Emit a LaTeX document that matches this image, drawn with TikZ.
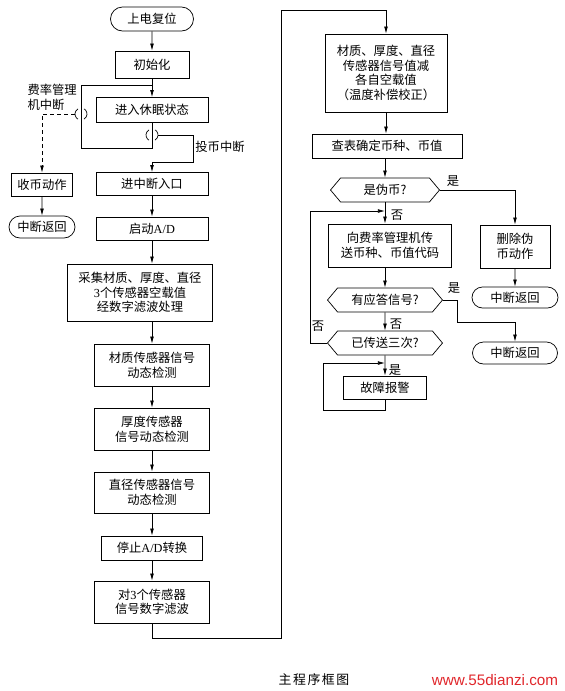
\documentclass[tikz,border=0pt]{standalone}
\usepackage{fontspec}
\setmainfont{Noto Sans CJK SC}
\newfontfamily\latn{Liberation Serif}
\newfontfamily\webfont{Liberation Sans}
\newfontfamily\capfont[LetterSpace=12]{Noto Sans CJK SC}
\usepackage{tikz}
\usetikzlibrary{arrows.meta,shapes.misc,shapes.symbols}
\definecolor{wmred}{HTML}{E0262B}

\begin{document}
\begin{tikzpicture}[
  x=0.03cm, y=-0.03cm, line width=0.6pt,
  every node/.style={font=\fontsize{10.5}{12.5}\selectfont},
  pbox/.style={draw, rectangle, inner sep=0pt, align=center},
  term/.style={draw, rounded rectangle, inner sep=0pt},
  decide/.style={draw, signal, signal to=west and east, signal pointer angle=100,
                 inner sep=0pt, minimum height=0.72cm},
  arr/.style={-{Latex[length=6pt,width=3.2pt]}},
  lbl/.style={inner sep=1pt}
]
  \useasboundingbox (0,0) rectangle (565,691);

  \node[term, minimum width=2.49cm, minimum height=0.72cm] (pwr) at (152,19) {上电复位};
  \node[pbox, minimum width=2.22cm, minimum height=0.81cm] (init) at (152,64.5) {初始化};
  \node[pbox, minimum width=3.36cm, minimum height=0.75cm] (sleep) at (152,110) {进入休眠状态};
  \node[pbox, minimum width=1.83cm, minimum height=0.69cm] (coin) at (42,184.5) {收币动作};
  \node[term, minimum width=1.98cm, minimum height=0.66cm] (ret1) at (42,227) {中断返回};
  \node[pbox, minimum width=3.36cm, minimum height=0.69cm] (entry) at (152,184) {进中断入口};
  \node[pbox, minimum width=3.36cm, minimum height=0.69cm] (startad) at (152,228.5) {启动{\latn A/D}};
  \node[pbox, minimum width=4.35cm, minimum height=1.71cm] (sample) at (140,292.5)
    {采集材质、厚度、直径\\{\latn 3}个传感器空载值\\经数字滤波处理};
  \node[pbox, minimum width=3.45cm, minimum height=1.26cm] (det1) at (152,365) {材质传感器信号\\动态检测};
  \node[pbox, minimum width=3.45cm, minimum height=1.26cm] (det2) at (152,429) {厚度传感器\\信号动态检测};
  \node[pbox, minimum width=3.45cm, minimum height=1.23cm] (det3) at (152,492.5) {直径传感器信号\\动态检测};
  \node[pbox, minimum width=3.03cm, minimum height=0.72cm] (stopad) at (152,548) {停止{\latn A/D}转换};
  \node[pbox, minimum width=3.45cm, minimum height=1.26cm] (filt) at (152,602) {对{\latn 3}个传感器\\信号数字滤波};

  \node[pbox, minimum width=3.66cm, minimum height=2.34cm] (comp) at (386,73)
    {材质、厚度、直径\\传感器信号值减\\各自空载值\\（温度补偿校正）};
  \node[pbox, minimum width=4.5cm, minimum height=0.72cm] (lookup) at (387,146) {查表确定币种、币值};
  \node[decide, minimum width=3.27cm] (fake) at (385,190) {是伪币?};
  \node[pbox, minimum width=3.69cm, minimum height=1.29cm] (send) at (390,245.5) {向费率管理机传\\送币种、币值代码};
  \node[pbox, minimum width=2.1cm, minimum height=1.29cm] (del) at (515,246.5) {删除伪\\币动作};
  \node[term, minimum width=2.58cm, minimum height=0.63cm] (ret2) at (515,297.5) {中断返回};
  \node[decide, minimum width=3.45cm] (ack) at (385,300) {有应答信号?};
  \node[term, minimum width=2.55cm, minimum height=0.66cm] (ret3) at (515,353) {中断返回};
  \node[decide, minimum width=3.45cm] (thrice) at (385,343) {已传送三次?};
  \node[pbox, minimum width=2.49cm, minimum height=0.69cm] (alarm) at (385,387.5) {故障报警};

  \node[lbl, anchor=west, align=left] (mgr) at (26,97.5) {费率管理\\机中断};
  \node[lbl] (coinint) at (220,147) {投币中断};
  \node[lbl] (y1) at (453,181) {是};
  \node[lbl] (n1) at (397,215) {否};
  \node[lbl] (y2) at (454,288) {是};
  \node[lbl] (n2) at (396,324) {否};
  \node[lbl] (n3) at (318,326) {否};
  \node[lbl] (y3) at (395,370) {是};

  \coordinate (isr1) at (81,114);
  \coordinate (isr1w) at (75,114);
  \coordinate (isr2) at (152,135);
  \coordinate (isr2e) at (158,135);
  \coordinate (slt) at (81,85);
  \coordinate (slb) at (81,148);
  \coordinate (tb) at (193,162);
  \coordinate (fb) at (281,638);
  \coordinate (ft) at (281,10);
  \coordinate (lp) at (310,211);
  \coordinate (ackb) at (457,322);
  \coordinate (al) at (323,363);

  \draw[arr] (pwr) -- (init);
  \draw[arr] (init) -- (sleep);
  \draw (sleep.south) |- (slb) -- (slt) -- (slt -| sleep);
  \draw (isr1) ++(120:6) arc[start angle=120, end angle=240, radius=6];
  \draw (isr1) ++(-60:6) arc[start angle=-60, end angle=60, radius=6];
  \draw (isr2) ++(120:6) arc[start angle=120, end angle=240, radius=6];
  \draw (isr2) ++(-60:6) arc[start angle=-60, end angle=60, radius=6];
  \draw[arr, dashed] (isr1w) -| (coin.north);
  \draw[arr] (coin) -- (ret1);
  \draw[arr] (isr2e) -| (tb) -| (entry.north);
  \draw[arr] (entry) -- (startad);
  \draw[arr] (startad.south) -- (startad.south |- sample.north);
  \draw[arr] (det1.north |- sample.south) -- (det1.north);
  \draw[arr] (det1) -- (det2);
  \draw[arr] (det2) -- (det3);
  \draw[arr] (det3) -- (stopad);
  \draw[arr] (stopad) -- (filt);
  \draw[arr] (filt.south) |- (fb) -- (ft) -| (comp.north);

  \draw[arr] (comp.south) -- (comp.south |- lookup.north);
  \draw[arr] (fake.north |- lookup.south) -- (fake.north);
  \draw[arr] (fake.east) -| (del.north);
  \draw[arr] (fake.south) -- (fake.south |- send.north);
  \draw[arr] (del) -- (ret2);
  \draw[arr] (ack.north |- send.south) -- (ack.north);
  \draw[arr] (ack.east) -| (ackb) -| (ret3.north);
  \draw[arr] (ack) -- (thrice);
  \draw[arr] (thrice.west) -| (lp) -- (lp -| fake);
  \draw[arr] (thrice) -- (alarm);
  \draw[arr] (alarm.south) -- ++(0,11) -| (al) -- (al -| alarm);

  \node[font=\capfont\fontsize{11}{13}\selectfont] (cap) at (314,680) {主程序框图};
  \node[text=wmred, font=\webfont\fontsize{13}{15}\selectfont] (wm) at (495,680) {www.55dianzi.com};
\end{tikzpicture}
\end{document}
